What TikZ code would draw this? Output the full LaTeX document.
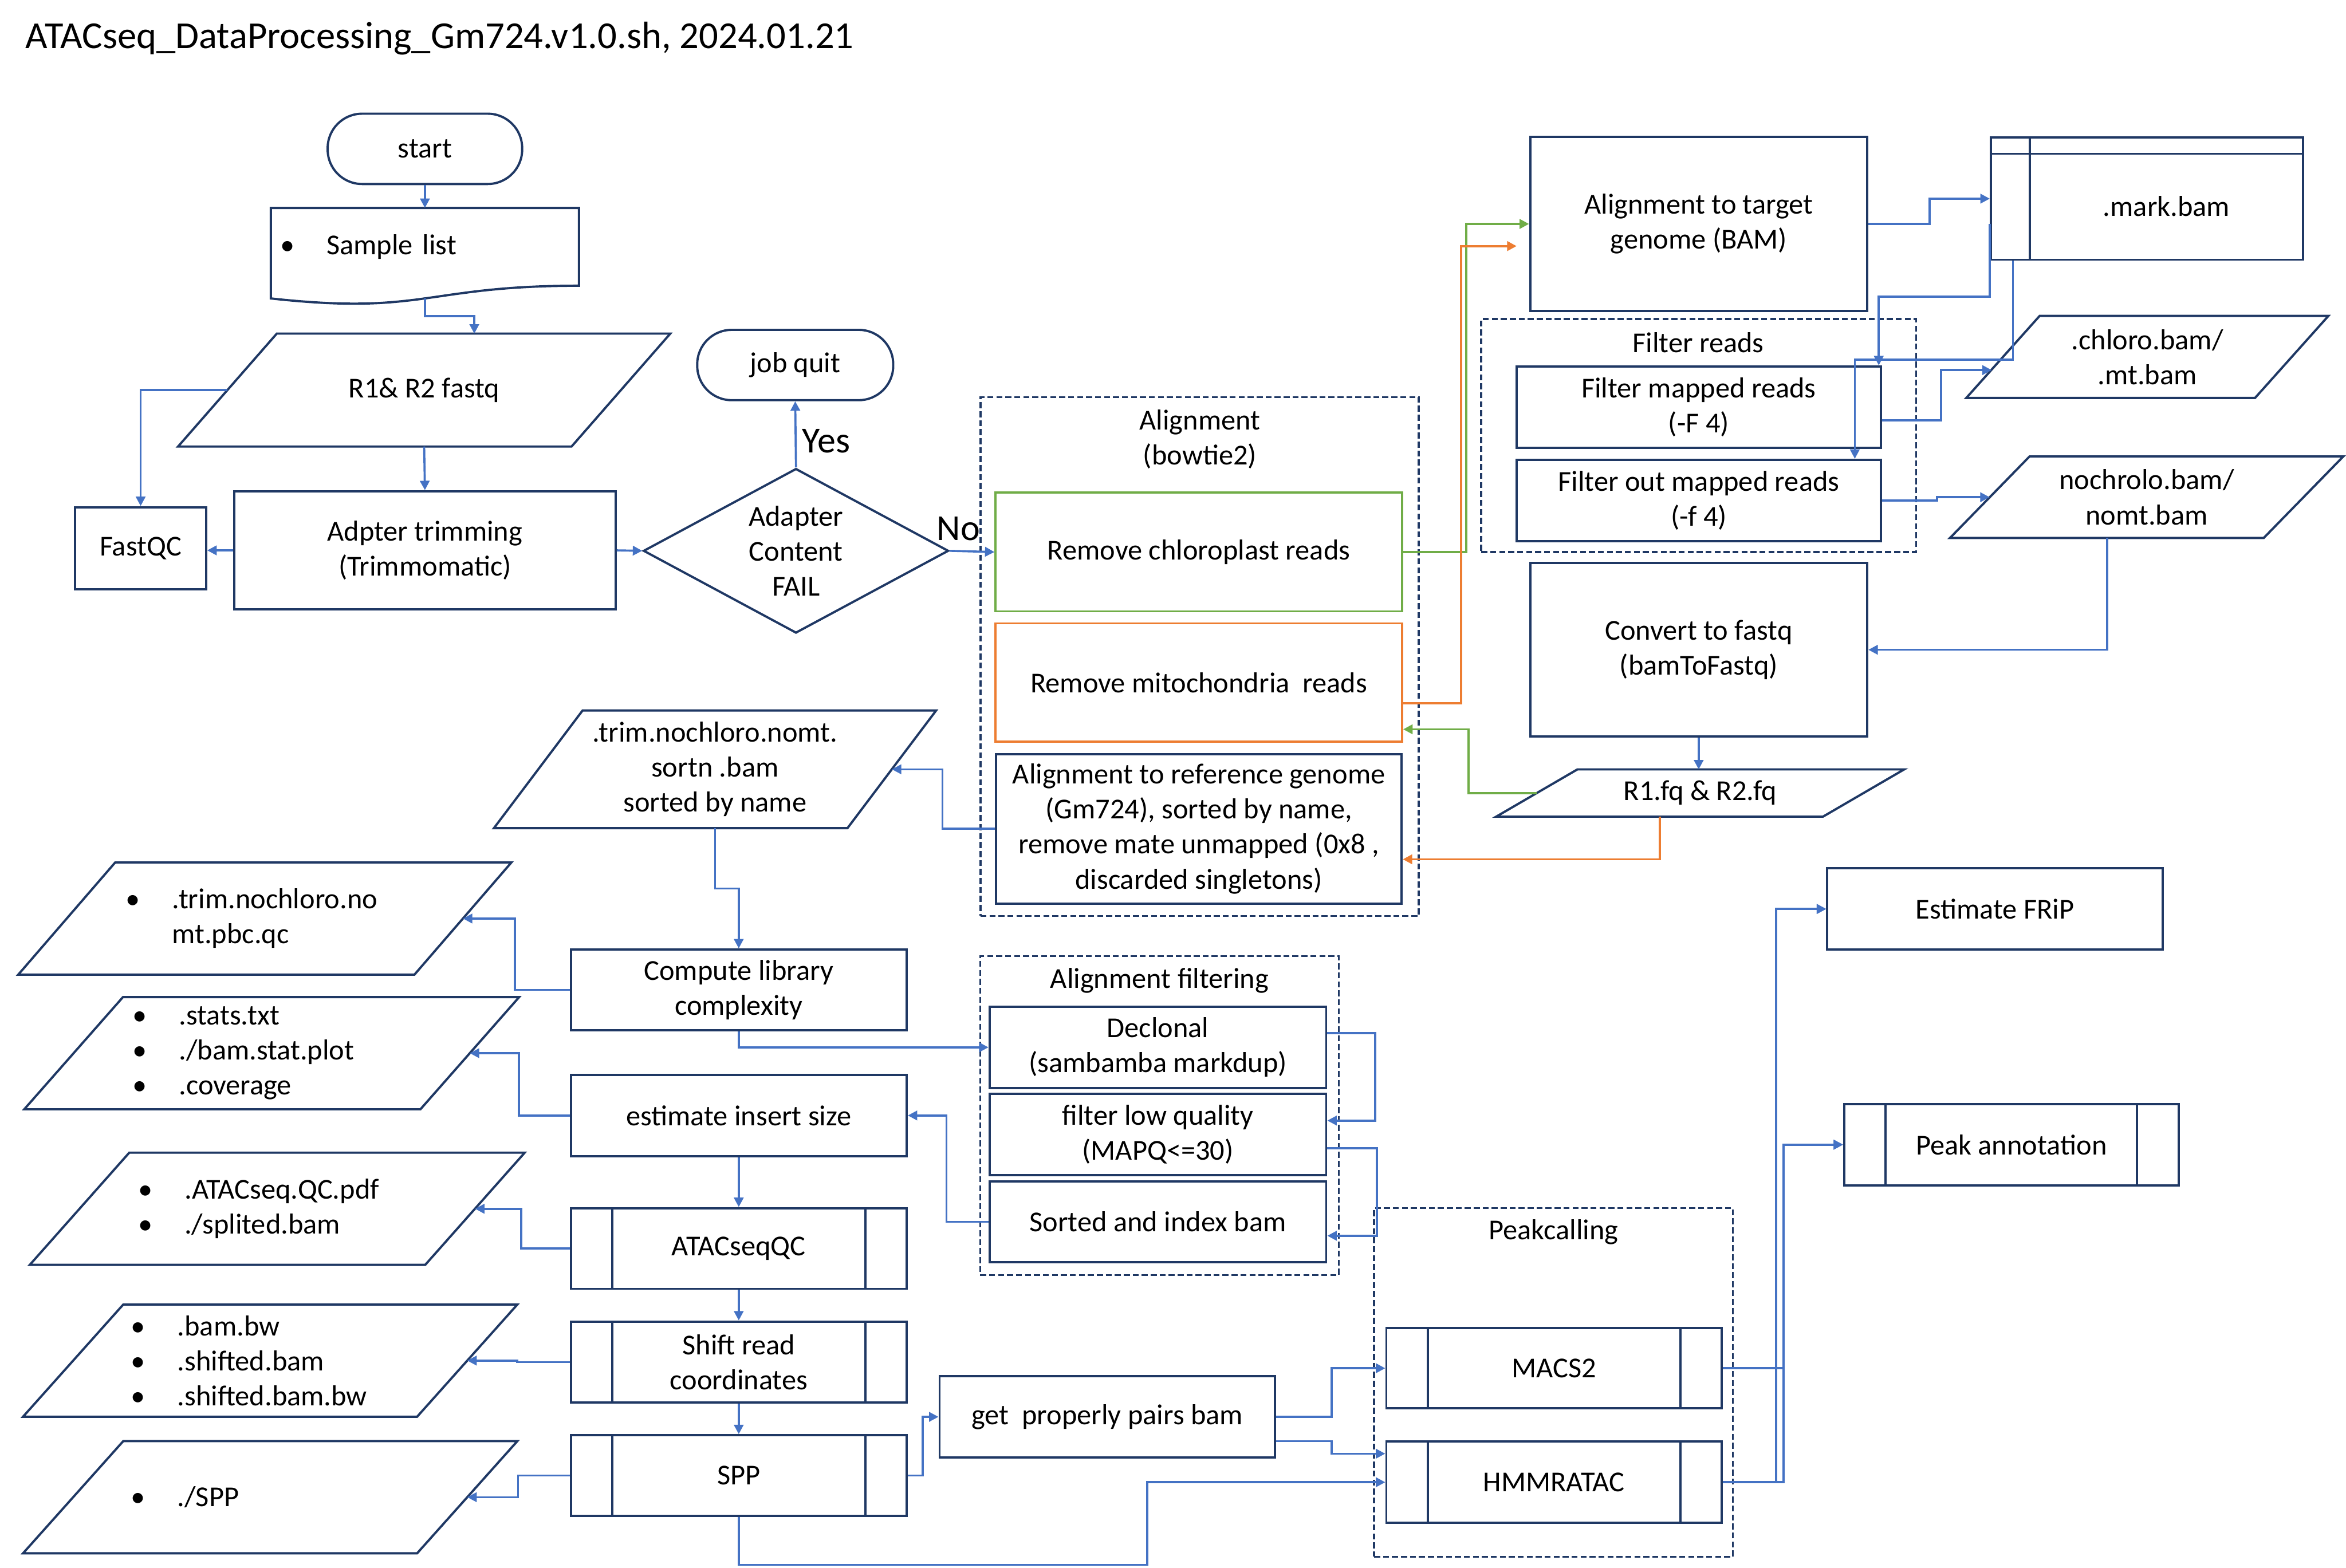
\documentclass[tikz,border=0pt]{standalone}
\usepackage{fontspec}
\setmainfont{Carlito}
\usepackage{tikz}
\usetikzlibrary{arrows.meta,shapes.geometric}
\definecolor{flNavy}{HTML}{1F3864}
\definecolor{flBlue}{HTML}{4472C4}
\definecolor{flGreen}{HTML}{70AD47}
\definecolor{flOrange}{HTML}{ED7D31}
\newcommand{\flfont}{\fontsize{19.3}{23.4}\selectfont}
\newcommand{\bul}{\makebox[31pt][l]{\textbullet}}
% parallelogram outline drawn over a plain node
\newcommand{\paraframe}[2]{%
  \draw[fl/outl] ([xshift=#2pt]#1.north west) -- (#1.north east)
    -- ([xshift=-#2pt]#1.south east) -- (#1.south west) -- cycle;}
\tikzset{
  % process boxes
  fl/box/.style={draw=flNavy, fill=white, line width=1.5pt, inner sep=2pt,
    align=center, font=\flfont, text=black},
  fl/term/.style={fl/box, rounded corners=23pt},
  % predefined process: two inner bars
  fl/sub/.style={fl/box, path picture={
    \draw[flNavy, line width=1.5pt]
      ([xshift=27.7pt]path picture bounding box.north west) -- ([xshift=27.7pt]path picture bounding box.south west)
      ([xshift=-27.7pt]path picture bounding box.north east) -- ([xshift=-27.7pt]path picture bounding box.south east);}},
  % internal storage
  fl/store/.style={fl/box, path picture={
    \draw[flNavy, line width=1.5pt]
      ([xshift=26.1pt]path picture bounding box.north west) -- ([xshift=26.1pt]path picture bounding box.south west)
      ([yshift=-10.8pt]path picture bounding box.north west) -- ([yshift=-10.8pt]path picture bounding box.north east);}},
  % data (outline drawn by \paraframe)
  fl/io/.style={inner sep=0pt, outer sep=0pt, align=left, font=\flfont, text=black},
  fl/outl/.style={draw=flNavy, line width=1.5pt},
  fl/grp/.style={draw=flNavy, line width=1.3pt, dash pattern=on 4pt off 2pt},
  fl/ttl/.style={font=\flfont, align=center, inner sep=0pt},
  fl/arr/.style={-{Triangle[length=6.3pt,width=6.3pt]}, draw=flBlue, line width=1.4pt},
  fl/arrG/.style={fl/arr, draw=flGreen, line width=1.5pt},
  fl/arrO/.style={fl/arr, draw=flOrange, line width=1.5pt},
}

\begin{document}
\begin{tikzpicture}[x=1pt,y=-1pt]
  \useasboundingbox (0,0) rectangle (1568,1048);
  \node[anchor=base west, font=\fontsize{25.5}{30}\selectfont, inner sep=0pt] (title) at (17,32.4)
       {ATACseq\_DataProcessing\_Gm724.v1.0.sh, 2024.01.21};

  % groups
  \node[fl/grp, minimum width=292.9pt, minimum height=346.8pt] (galn) at (801.75,438.9) {};
  \node[fl/grp, minimum width=290.7pt, minimum height=155.7pt] (gflt) at (1135.35,291.15) {};
  \node[fl/grp, minimum width=239.7pt, minimum height=213.3pt] (gfil) at (774.95,745.65) {};
  \node[fl/grp, minimum width=239.8pt, minimum height=233pt] (gpk) at (1038.3,924.1) {};
  \node[fl/ttl] (galnT) at (802,293.5) {Alignment\\(bowtie2)};
  \node[fl/ttl] (gfltT) at (1135,229) {Filter reads};
  \node[fl/ttl] (gfilT) at (775,655.5) {Alignment filtering};
  \node[fl/ttl] (gpkT) at (1038.3,823.7) {Peakcalling};

  % input and trimming
  \node[fl/term, minimum width=130pt, minimum height=47pt] (start) at (284,99.5) {start};
  \node[fl/io, minimum width=206pt, minimum height=52pt, text width=193.4pt] (sample) at (284,165) {\bul Sample list};
  \node[fl/io, minimum width=329pt, minimum height=75.5pt, align=center] (r1) at (283.5,260.75) {R1\& R2 fastq};
  \node[fl/box, minimum width=87.5pt, minimum height=55pt] (fastqc) at (94,366.5) {FastQC};
  \node[fl/box, minimum width=255pt, minimum height=79pt] (trim) at (284,367.9) {Adpter trimming\\(Trimmomatic)};
  \node[fl/box, diamond, aspect=1.85, inner sep=0pt, minimum width=204pt, minimum height=110pt] (dia) at (532,368.2)
       {Adapter\\Content\\FAIL};
  \node[fl/term, minimum width=131pt, minimum height=47pt] (quit) at (531.5,244) {job quit};
  \node[anchor=base west, font=\fontsize{24.5}{29}\selectfont, inner sep=0pt] (yes) at (536,302.7) {Yes};
  \node[anchor=base west, font=\fontsize{24.5}{29}\selectfont, inner sep=0pt] (no) at (626,361) {No};

  % alignment
  \node[fl/box, draw=flGreen, minimum width=271.7pt, minimum height=79.3pt] (rchl) at (801.25,369) {Remove chloroplast reads};
  \node[fl/box, draw=flOrange, minimum width=271.7pt, minimum height=79pt] (rmt) at (801.25,456.2) {Remove mitochondria~ reads};
  \node[fl/box, minimum width=271.2pt, minimum height=100pt] (aref) at (801.25,554)
       {Alignment to reference genome\\(Gm724), sorted by name,\\remove mate unmapped (0x8 ,\\discarded singletons)};

  \node[fl/box, minimum width=225.3pt, minimum height=116.6pt] (tgt) at (1135.35,149.7) {Alignment to target\\genome (BAM)};
  \node[fl/store, minimum width=208.7pt, minimum height=81.6pt,
        label={[font=\flfont, xshift=13pt, yshift=-5.2pt]center:.mark.bam}] (mark) at (1435,132.8) {};
  \node[fl/box, minimum width=243.2pt, minimum height=54.5pt] (fmap) at (1135.4,272.2) {Filter mapped reads\\(-F 4)};
  \node[fl/box, minimum width=243.2pt, minimum height=54.2pt] (fout) at (1135.4,334.5) {Filter out mapped reads\\(-f 4)};
  \node[fl/io, minimum width=242pt, minimum height=54.8pt, align=center] (chl) at (1435.2,238.6) {.chloro.bam/\\.mt.bam};
  \node[fl/io, minimum width=262.9pt, minimum height=54.5pt, align=center] (nochl) at (1434.75,332.35) {nochrolo.bam/\\nomt.bam};
  \node[fl/box, minimum width=225.3pt, minimum height=115.9pt] (conv) at (1135.35,434.35) {Convert to fastq\\(bamToFastq)};
  \node[fl/io, minimum width=272.7pt, minimum height=31.6pt, align=center] (fq) at (1136.35,530.1) {R1.fq \& R2.fq};

  % QC column
  \node[fl/io, minimum width=295.6pt, minimum height=78.7pt, align=center] (trimn) at (477.9,514.25)
       {.trim.nochloro.nomt.\\sortn .bam\\sorted by name};
  \node[fl/box, minimum width=224.5pt, minimum height=54.1pt] (comp) at (493.75,661.75) {Compute library\\complexity};
  \node[fl/box, minimum width=224.5pt, minimum height=54.5pt] (est) at (493.75,745.65) {estimate insert size};
  \node[fl/sub, minimum width=224.5pt, minimum height=53.9pt] (qc) at (493.75,834.55) {ATACseqQC};
  \node[fl/sub, minimum width=224.5pt, minimum height=54.1pt] (shift) at (493.75,910.45) {Shift read\\coordinates};
  \node[fl/sub, minimum width=224.5pt, minimum height=53.9pt] (spp) at (493.75,986.35) {SPP};

  \node[fl/io, minimum width=329.6pt, minimum height=75pt, text width=186pt] (pbc) at (177,614)
       {\bul .trim.nochloro.no\\\hspace*{31pt}mt.pbc.qc};
  \node[fl/io, minimum width=330.8pt, minimum height=75pt, text width=186pt] (stats) at (181.6,704)
       {\bul .stats.txt\\\bul ./bam.stat.plot\\\bul .coverage};
  \node[fl/io, minimum width=330.8pt, minimum height=75pt, text width=186pt] (qcout) at (185.3,808)
       {\bul .ATACseq.QC.pdf\\\bul ./splited.bam};
  \node[fl/io, minimum width=330.4pt, minimum height=75pt, text width=186pt] (bw) at (180.6,909.5)
       {\bul .bam.bw\\\bul .shifted.bam\\\bul .shifted.bam.bw};
  \node[fl/io, minimum width=330.4pt, minimum height=75pt, text width=186pt] (sppout) at (180.6,1000.8) {\bul ./SPP};

  % filtering and peaks
  \node[fl/box, minimum width=225pt, minimum height=54.2pt] (decl) at (773.9,700.1) {Declonal\\(sambamba markdup)};
  \node[fl/box, minimum width=225pt, minimum height=54.1pt] (flq) at (773.9,758.35) {filter low quality\\(MAPQ<=30)};
  \node[fl/box, minimum width=225pt, minimum height=54.1pt] (srt) at (773.9,816.75) {Sorted and index bam};
  \node[fl/box, minimum width=224.2pt, minimum height=54.2pt] (pairs) at (740.1,947.1) {get~ properly pairs bam};
  \node[fl/sub, minimum width=224.1pt, minimum height=53.8pt] (macs) at (1038.65,914.6) {MACS2};
  \node[fl/sub, minimum width=224.1pt, minimum height=54.2pt] (hmm) at (1038.65,990.8) {HMMRATAC};
  \node[fl/box, minimum width=224.2pt, minimum height=54.2pt] (frip) at (1333.4,607.6) {Estimate FRiP};
  \node[fl/sub, minimum width=223.5pt, minimum height=54.3pt] (peak) at (1344.35,765.15) {Peak annotation};

  % outlines
  \draw[fl/outl] (sample.north west) -- (sample.north east) -- (sample.south east)
    .. controls (sample.south) and ([yshift=-19.8pt]sample.south) .. ([yshift=-8.5pt]sample.south west) -- cycle;
  \paraframe{r1}{66}
  \paraframe{chl}{49}
  \paraframe{nochl}{53.2}
  \paraframe{fq}{54.3}
  \paraframe{trimn}{59.3}
  \paraframe{pbc}{64.8}
  \paraframe{stats}{66}
  \paraframe{qcout}{66.5}
  \paraframe{bw}{67}
  \paraframe{sppout}{67}

  % connectors
  \draw[fl/arr] (start.south) -- (sample.north);
  \draw[fl/arr] ([yshift=-8.5pt]sample.south) -- ++(0,11.9) -| ([xshift=33.5pt]r1.north);
  \draw[fl/arr] ([xshift=33pt]r1.west) -| (fastqc.north);
  \draw[fl/arr] (r1.south) -- (trim.north);
  \draw[fl/arr] (trim.west) -- (trim.west -| fastqc.east);
  \draw[fl/arr] (trim.east) -- (dia.west);
  \draw[fl/arr] (dia.north) -- (quit.south);
  \draw[fl/arr] (dia.east) -- (rchl.west);

  \draw[fl/arrG] (rchl.east) -- ++(42.3,0) |- (tgt.west);
  \draw[fl/arrO] ([yshift=-13.8pt]rmt.east) -- ++(38.8,0) |- ([shift={(-8.3pt,-14.8pt)}]tgt.west);
  \draw[fl/arr] (tgt.east) -- ++(41,0) |- (mark.west);
  \draw[fl/arr] ([yshift=-16.9pt]mark.west) -- ++(0,48.5) -| ([xshift=120.3pt]fmap.north);
  \draw[fl/arr] ([xshift=-89.6pt]mark.south) -- ++(0,66) -| ([xshift=104.3pt]fout.north);
  \draw[fl/arr] ([yshift=-8.8pt]fmap.east) -- ++(39.5,0) |- ([shift={(17pt,-8.8pt)}]chl.west);
  \draw[fl/arr] (fout.east) -- ++(37,0) |- ([xshift=26.5pt]nochl.west);
  \draw[fl/arr] ([xshift=-26.5pt]nochl.south) |- (conv.east);
  \draw[fl/arr] (conv.south) -- (conv.south |- fq.north);
  \draw[fl/arrG] ([xshift=27pt]fq.west) -- ++(-45.5,0) |- ([yshift=-31.3pt]rmt.east);
  \draw[fl/arrO] ([xshift=-27pt]fq.south) |- ([yshift=-20.4pt]aref.east);

  \draw[fl/arr] (aref.west) -- ++(-35,0) |- ([xshift=-29.6pt]trimn.east);
  \draw[fl/arr] (trimn.south) -- ++(0,40.3) -| (comp.north);
  \draw[fl/arr] (comp.west) -- ++(-36.5,0) |- ([xshift=-32.4pt]pbc.east);
  \draw[fl/arr] (comp.south) |- (decl.west);
  \draw[fl/arr] ([yshift=9.4pt]decl.east) -- ++(32,0) |- ([yshift=9.3pt]flq.east);
  \draw[fl/arr] ([yshift=-9.2pt]flq.east) -- ++(33,0) |- ([yshift=-9.3pt]srt.east);
  \draw[fl/arr] (srt.west) -- ++(-28,0) |- (est.east);
  \draw[fl/arr] (est.west) -- ++(-34,0) |- ([xshift=-33pt]stats.east);
  \draw[fl/arr] (est.south) -- (qc.north);
  \draw[fl/arr] (qc.west) -- ++(-32.5,0) |- ([xshift=-33.2pt]qcout.east);
  \draw[fl/arr] (qc.south) -- (shift.north);
  \draw[fl/arr] (shift.west) -- ++(-35,0) |- ([xshift=-33.5pt]bw.east);
  \draw[fl/arr] (shift.south) -- (spp.north);
  \draw[fl/arr] (spp.west) -- ++(-34.5,0) |- ([xshift=-33.5pt]sppout.east);

  \draw[fl/arr] (spp.east) -- ++(10,0) |- (pairs.west);
  \draw[fl/arr] (pairs.east) -- ++(37,0) |- (macs.west);
  \draw[fl/arr] ([yshift=-16.3pt]pairs.east) -- ++(37,0) |- ([yshift=19.1pt]hmm.west);
  \draw[fl/arr] (spp.south) -- ++(0,32) -- ++(272.9,0) |- (hmm.west);
  \draw[fl/arr] (macs.east) -- ++(35.6,0) |- (frip.west);
  \draw[fl/arr] (hmm.east) -- ++(35.6,0) |- (frip.west);
  \draw[fl/arr] (macs.east) -- ++(40.6,0) |- (peak.west);
  \draw[fl/arr] (hmm.east) -- ++(40.6,0) |- (peak.west);
\end{tikzpicture}
\end{document}
